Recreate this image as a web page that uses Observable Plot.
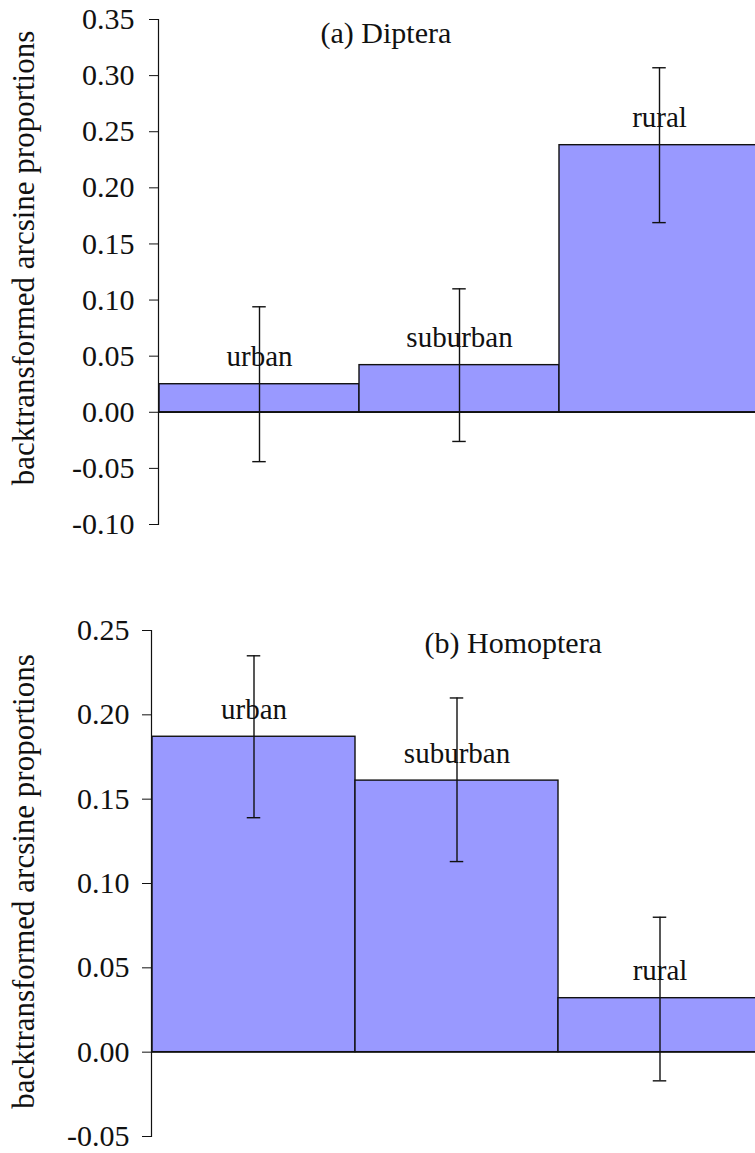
<!DOCTYPE html>
<html>
<head>
<meta charset="utf-8">
<script src="https://cdn.jsdelivr.net/npm/d3@7"></script>
<script src="https://cdn.jsdelivr.net/npm/@observablehq/plot@0.6"></script>
<style>
  html, body { margin: 0; padding: 0; background: #fff; overflow: hidden; }
  #chart svg { display: block; }
</style>
</head>
<body>
<div id="chart"></div>
<script>
// ---- data ----
const categories = ["urban", "suburban", "rural"];

const dipteraMean = [0.025, 0.042, 0.238];
const dipteraLow  = [-0.044, -0.026, 0.169];
const dipteraHigh = [0.094, 0.110, 0.307];

const homopteraMean = [0.187, 0.161, 0.032];
const homopteraLow  = [0.139, 0.113, -0.017];
const homopteraHigh = [0.235, 0.210, 0.080];

const ticksA = [-0.10, -0.05, 0.00, 0.05, 0.10, 0.15, 0.20, 0.25, 0.30, 0.35];
const ticksB = [-0.05, 0.00, 0.05, 0.10, 0.15, 0.20, 0.25];

const yLabel = "backtransformed arcsine proportions";
const titleA = "(a) Diptera";
const titleB = "(b) Homoptera";

// ---- drawing ----
const FONT = "Liberation Serif";
const BAR_FILL = "#9999ff";
const INK = "#111";

function panel(cfg) {
  const rows = categories.map((c, i) => ({cat: c, mean: cfg.mean[i], low: cfg.low[i], high: cfg.high[i]}));
  const band = (cfg.xRange[1] - cfg.xRange[0]) / categories.length;
  const capHalf = 7;
  return Plot.plot({
    width: 755,
    height: cfg.height,
    marginTop: cfg.marginTop,
    marginBottom: cfg.marginBottom,
    marginLeft: cfg.marginLeft,
    marginRight: 0,
    style: {fontFamily: FONT, fontSize: "29px", color: INK, background: "#fff", overflow: "hidden"},
    x: {type: "band", domain: categories, range: cfg.xRange, padding: 0, axis: null},
    y: {domain: cfg.yDomain, axis: null},
    marks: [
      Plot.barY(rows, {x: "cat", y: "mean", fill: BAR_FILL, stroke: INK, strokeWidth: 1.4}),
      Plot.ruleY([0], {stroke: INK, strokeWidth: 1.4}),
      Plot.text(rows, {x: "cat", y: "mean", text: "cat", dy: -18, lineAnchor: "bottom", fill: INK, fontFamily: FONT, fontSize: 29}),
      Plot.ruleX(rows, {x: "cat", y1: "low", y2: "high", stroke: INK, strokeWidth: 1.4}),
      Plot.tickY(rows, {x: "cat", y: "high", stroke: INK, strokeWidth: 1.4, insetLeft: band / 2 - capHalf, insetRight: band / 2 - capHalf}),
      Plot.tickY(rows, {x: "cat", y: "low", stroke: INK, strokeWidth: 1.4, insetLeft: band / 2 - capHalf, insetRight: band / 2 - capHalf}),
      Plot.axisY({ticks: cfg.ticks, tickFormat: d => d.toFixed(2), tickSize: 9, tickPadding: cfg.tickPadding, label: null, stroke: INK, fill: INK, fontFamily: FONT, fontSize: 30, fontVariant: "normal"}),
      Plot.frame({anchor: "left", stroke: INK, strokeWidth: 1.2}),
      Plot.text([cfg.title], {frameAnchor: "top-left", text: d => d, textAnchor: "start", lineAnchor: "bottom", dx: cfg.titleDx, dy: cfg.titleDy, fill: INK, fontFamily: FONT, fontSize: 30}),
      Plot.text([yLabel], {frameAnchor: "left", text: d => d, rotate: -90, textAnchor: "middle", lineAnchor: "bottom", dx: cfg.labelDx, dy: cfg.labelDy, fill: INK, fontFamily: FONT, fontSize: 31})
    ]
  });
}

const chart = document.getElementById("chart");

chart.appendChild(panel({
  mean: dipteraMean, low: dipteraLow, high: dipteraHigh,
  ticks: ticksA, yDomain: [-0.10, 0.35],
  height: 560, marginTop: 19, marginBottom: 36, marginLeft: 158,
  xRange: [158, 759.5], tickPadding: 15,
  title: titleA, titleDx: 162, titleDy: 23,
  labelDx: 33 - 158, labelDy: -14
}));

chart.appendChild(panel({
  mean: homopteraMean, low: homopteraLow, high: homopteraHigh,
  ticks: ticksB, yDomain: [-0.05, 0.25],
  height: 593, marginTop: 70, marginBottom: 17, marginLeft: 151,
  xRange: [151, 761.5], tickPadding: 13,
  title: titleB, titleDx: 273, titleDy: 22,
  labelDx: 33 - 151, labelDy: -2
}));
</script>
</body>
</html>
